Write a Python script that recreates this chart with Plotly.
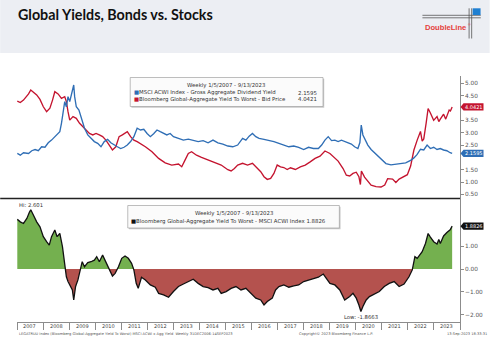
import pandas as pd
import plotly.graph_objects as go

# ---------------- data ----------------
ACWI_DATES = [
    "2007-01-05", "2007-02-16", "2007-04-02", "2007-06-12", "2007-07-27", "2007-09-11", "2007-10-27",
    "2007-12-12", "2008-01-28", "2008-03-14", "2008-04-29", "2008-06-14", "2008-07-30", "2008-08-23",
    "2008-09-15", "2008-10-08", "2008-10-31", "2008-11-23", "2008-12-16", "2009-01-09", "2009-02-01",
    "2009-03-06", "2009-03-19", "2009-04-11", "2009-05-18", "2009-06-19", "2009-08-04", "2009-09-19",
    "2009-11-04", "2009-12-20", "2010-02-05", "2010-03-23", "2010-05-08", "2010-06-24", "2010-08-08",
    "2010-09-23", "2010-11-08", "2010-12-24", "2011-02-09", "2011-03-27", "2011-05-12", "2011-06-27",
    "2011-08-12", "2011-09-28", "2011-11-13", "2011-12-29", "2012-02-13", "2012-03-30", "2012-05-16",
    "2012-07-01", "2012-08-16", "2012-10-01", "2012-11-17", "2013-01-02", "2013-03-13", "2013-05-21",
    "2013-07-29", "2013-10-06", "2013-12-14", "2014-02-22", "2014-05-02", "2014-07-10", "2014-09-17",
    "2014-11-25", "2015-02-03", "2015-04-13", "2015-06-21", "2015-08-29", "2015-10-14", "2015-11-29",
    "2016-01-14", "2016-03-01", "2016-04-16", "2016-06-24", "2016-09-02", "2016-11-10", "2017-01-19",
    "2017-03-29", "2017-06-07", "2017-08-15", "2017-10-23", "2018-01-01", "2018-03-10", "2018-05-18",
    "2018-07-26", "2018-09-10", "2018-10-26", "2018-12-11", "2019-01-27", "2019-03-14", "2019-04-29",
    "2019-06-14", "2019-07-30", "2019-09-15", "2019-10-31", "2019-12-16", "2020-01-31", "2020-02-28",
    "2020-03-18", "2020-04-10", "2020-05-17", "2020-06-18", "2020-08-03", "2020-09-18", "2020-11-03",
    "2020-12-19", "2021-02-27", "2021-05-08", "2021-07-16", "2021-09-23", "2021-12-01", "2022-02-08",
    "2022-03-26", "2022-05-11", "2022-06-26", "2022-08-11", "2022-09-27", "2022-11-12", "2022-12-28",
    "2023-02-13", "2023-03-31", "2023-05-16", "2023-07-01", "2023-08-16", "2023-09-13",
]
ACWI_YIELD = [
    2.16, 2.09, 2.19, 2.16, 2.27, 2.32, 2.27,
    2.43, 2.41, 2.59, 2.70, 2.84, 2.97, 3.04,
    3.38, 3.92, 4.26, 4.05, 4.46, 4.26, 4.53,
    4.93, 4.46, 4.05, 3.92, 3.58, 3.18, 2.91,
    2.77, 2.64, 2.57, 2.43, 2.64, 2.73, 2.59,
    2.50, 2.43, 2.36, 2.41, 2.50, 2.64, 2.84,
    3.18, 3.11, 3.14, 2.97, 2.84, 2.96, 3.11,
    3.04, 2.96, 2.91, 2.97, 2.84, 2.77, 2.70,
    2.74, 2.68, 2.64, 2.68, 2.59, 2.70, 2.59,
    2.54, 2.46, 2.43, 2.50, 2.77, 2.70, 2.86,
    2.97, 2.84, 2.77, 2.73, 2.70, 2.64, 2.57,
    2.50, 2.43, 2.46, 2.41, 2.32, 2.41, 2.36,
    2.36, 2.50, 2.70, 2.84, 2.68, 2.70, 2.64,
    2.70, 2.64, 2.59, 2.54, 2.43, 2.36, 2.60,
    3.31, 2.91, 2.70, 2.50, 2.32, 2.19, 2.05,
    1.96, 1.75, 1.70, 1.72, 1.76, 1.78, 1.88,
    1.98, 2.12, 2.33, 2.30, 2.50, 2.36, 2.41,
    2.32, 2.36, 2.30, 2.27, 2.19, 2.1595,
]

AGG_DATES = [
    "2007-01-05", "2007-02-16", "2007-04-02", "2007-06-12", "2007-07-13", "2007-08-20", "2007-10-04",
    "2007-11-19", "2008-01-05", "2008-02-20", "2008-04-06", "2008-05-13", "2008-06-14", "2008-07-30",
    "2008-09-15", "2008-10-31", "2008-11-23", "2008-12-16", "2009-01-09", "2009-02-24", "2009-04-11",
    "2009-05-27", "2009-07-12", "2009-08-27", "2009-10-12", "2009-11-28", "2010-01-13", "2010-02-28",
    "2010-04-15", "2010-05-31", "2010-07-16", "2010-08-31", "2010-10-17", "2010-12-02", "2011-01-17",
    "2011-03-27", "2011-05-12", "2011-06-27", "2011-08-12", "2011-09-04", "2011-12-05", "2012-03-07",
    "2012-06-08", "2012-09-08", "2012-12-09", "2013-03-13", "2013-04-28", "2013-06-13", "2013-07-29",
    "2013-09-13", "2013-11-21", "2014-01-30", "2014-05-02", "2014-08-02", "2014-11-02", "2015-02-03",
    "2015-03-21", "2015-05-06", "2015-06-21", "2015-08-29", "2015-11-06", "2016-01-14", "2016-03-24",
    "2016-05-09", "2016-06-24", "2016-08-09", "2016-09-25", "2016-11-10", "2016-12-26", "2017-02-11",
    "2017-03-29", "2017-05-15", "2017-06-30", "2017-09-07", "2017-11-15", "2018-01-23", "2018-04-02",
    "2018-06-10", "2018-08-18", "2018-10-26", "2019-01-04", "2019-02-19", "2019-04-29", "2019-07-07",
    "2019-08-22", "2019-10-08", "2019-11-23", "2020-01-08", "2020-02-14", "2020-03-06", "2020-03-20",
    "2020-05-03", "2020-06-18", "2020-08-03", "2020-10-11", "2020-12-20", "2021-02-10", "2021-03-23",
    "2021-05-31", "2021-07-16", "2021-08-31", "2021-11-08", "2021-12-24", "2022-02-08", "2022-03-26",
    "2022-05-11", "2022-06-26", "2022-07-20", "2022-08-11", "2022-09-13", "2022-10-11", "2022-11-12",
    "2022-12-28", "2023-02-13", "2023-03-10", "2023-03-31", "2023-05-16", "2023-06-15", "2023-07-01",
    "2023-08-02", "2023-08-20", "2023-09-13",
]
AGG_YTW = [
    4.28, 4.22, 4.32, 4.57, 4.73, 4.62, 4.53,
    4.35, 4.05, 3.85, 3.99, 4.32, 4.66, 4.57,
    4.39, 4.46, 4.26, 3.85, 3.51, 3.65, 3.58,
    3.38, 3.24, 3.11, 2.97, 2.91, 2.97, 2.91,
    2.84, 2.70, 2.50, 2.30, 2.43, 2.84, 2.91,
    3.04, 2.84, 2.70, 2.64, 2.60, 2.43, 2.23,
    1.96, 1.78, 1.69, 1.73, 1.62, 1.89, 2.16,
    2.23, 2.09, 2.00, 1.89, 1.78, 1.69, 1.50,
    1.45, 1.55, 1.69, 1.76, 1.69, 1.76, 1.55,
    1.42, 1.22, 1.11, 1.15, 1.35, 1.69, 1.62,
    1.59, 1.51, 1.58, 1.51, 1.62, 1.69, 1.82,
    1.96, 2.05, 2.26, 2.16, 2.05, 1.85, 1.55,
    1.28, 1.25, 1.35, 1.40, 1.22, 0.90, 1.45,
    1.20, 1.05, 0.88, 0.82, 0.80, 0.88, 1.14,
    1.12, 0.98, 1.12, 1.22, 1.30, 1.65, 2.30,
    2.70, 3.05, 2.66, 2.75, 3.38, 3.98, 3.80,
    3.50, 3.65, 3.45, 3.55, 3.75, 3.55, 3.70,
    3.92, 3.88, 4.0421,
]

SPREAD_DATES = [
    "2007-01-05", "2007-02-16", "2007-04-02", "2007-05-19", "2007-06-25", "2007-07-13", "2007-08-20",
    "2007-10-04", "2007-11-19", "2008-01-05", "2008-02-20", "2008-03-28", "2008-04-29", "2008-06-14",
    "2008-07-16", "2008-08-23", "2008-09-29", "2008-10-18", "2008-11-05", "2008-11-23", "2008-12-16",
    "2009-01-18", "2009-02-15", "2009-03-06", "2009-04-01", "2009-05-04", "2009-06-05", "2009-07-03",
    "2009-08-04", "2009-09-19", "2009-11-04", "2009-12-20", "2010-01-22", "2010-02-28", "2010-04-15",
    "2010-05-31", "2010-07-16", "2010-08-31", "2010-10-07", "2010-11-23", "2011-01-08", "2011-02-23",
    "2011-04-10", "2011-05-26", "2011-06-27", "2011-07-30", "2011-08-27", "2011-10-12", "2011-12-05",
    "2012-02-13", "2012-04-22", "2012-06-08", "2012-08-16", "2012-10-25", "2013-01-02", "2013-03-13",
    "2013-05-21", "2013-07-29", "2013-10-06", "2013-12-14", "2014-02-22", "2014-05-02", "2014-07-10",
    "2014-09-17", "2014-11-02", "2015-01-10", "2015-03-21", "2015-05-28", "2015-08-06", "2015-10-14",
    "2015-12-22", "2016-03-01", "2016-05-09", "2016-06-24", "2016-08-09", "2016-10-18", "2016-12-03",
    "2017-01-19", "2017-03-29", "2017-06-07", "2017-08-15", "2017-10-23", "2018-01-01", "2018-03-10",
    "2018-05-18", "2018-07-26", "2018-10-03", "2018-11-18", "2019-01-04", "2019-03-14", "2019-05-22",
    "2019-07-30", "2019-10-08", "2019-11-23", "2020-01-08", "2020-02-14", "2020-03-13", "2020-04-10",
    "2020-05-26", "2020-07-11", "2020-09-18", "2020-11-26", "2021-02-04", "2021-04-14", "2021-06-22",
    "2021-08-31", "2021-11-08", "2022-01-16", "2022-03-03", "2022-04-09", "2022-05-11", "2022-06-13",
    "2022-07-20", "2022-09-04", "2022-10-11", "2022-11-12", "2022-12-28", "2023-02-13", "2023-03-10",
    "2023-03-31", "2023-05-16", "2023-07-01", "2023-08-16", "2023-09-13",
]
SPREAD = [
    2.18, 2.07, 2.00, 2.22, 2.50, 2.601, 2.36,
    2.07, 1.85, 1.42, 1.20, 1.05, 1.42, 1.71,
    1.42, 1.56, 0.98, 0.54, 0.10, -0.34, -0.55,
    -0.77, -0.92, -1.36, -0.77, -0.48, -0.04, 0.32,
    0.10, 0.28, 0.32, 0.39, 0.54, 0.32, 0.61,
    0.32, -0.04, -0.31, -0.19, 0.10, 0.47, 0.57,
    0.47, 0.25, -0.04, -0.63, -0.85, -0.36, -0.48,
    -0.70, -0.80, -1.07, -1.14, -1.24, -0.99, -0.77,
    -0.66, -0.55, -0.45, -0.63, -0.77, -0.82, -0.92,
    -0.85, -1.07, -0.99, -0.85, -0.77, -0.92, -0.85,
    -1.07, -1.28, -1.36, -1.58, -1.43, -1.28, -0.92,
    -0.77, -0.70, -0.80, -0.74, -0.70, -0.55, -0.48,
    -0.41, -0.36, -0.22, -0.41, -0.63, -0.70, -0.92,
    -1.36, -1.21, -1.07, -1.28, -1.58, -1.8663, -1.65,
    -1.36, -1.21, -1.09, -0.99, -0.77, -0.63, -0.55,
    -0.77, -0.66, -0.34, -0.04, 0.54, 0.47, 0.61,
    0.76, 1.12, 1.56, 1.40, 1.20, 1.10, 1.30,
    1.12, 1.45, 1.60, 1.72, 1.8826,
]

YEARS = list(range(2007, 2024))
# 2.00 / 4.00 (top) and 2.00 (bottom) sit under the last-value tags
TOP_TICKS = [0.5, 1.0, 1.5, 2.5, 3.0, 3.5, 4.5, 5.0]
BOTTOM_TICKS = [-2, -1, 0, 1]

BLUE = "#2F6EB5"
RED = "#C4142F"
GREEN_FILL = "#74B04F"
RED_FILL = "#B4524E"
FONT = "DejaVu Sans"

# ---------------- page geometry (pixels) ----------------
W, H = 495, 349
L, R, T, B = 17, 465, 76, 322
SPLIT = 198.5


def fx(px):
    return (px - L) / (R - L)


def fy(py):
    return (B - py) / (B - T)


split_dom = fy(SPLIT)


def us_date(s):
    d = pd.Timestamp(s)
    return f"{d.month}/{d.day}/{d.year}"


period = f"Weekly {us_date(ACWI_DATES[0])} - {us_date(ACWI_DATES[-1])}"


def split_at_zero(dates, vals):
    ts = pd.to_datetime(dates)
    xs, ys = [ts[0]], [vals[0]]
    for i in range(1, len(vals)):
        v0, v1 = vals[i - 1], vals[i]
        if (v0 > 0 > v1) or (v0 < 0 < v1):
            frac = v0 / (v0 - v1)
            xs.append(ts[i - 1] + (ts[i] - ts[i - 1]) * frac)
            ys.append(0.0)
        xs.append(ts[i])
        ys.append(vals[i])
    return xs, [max(v, 0.0) for v in ys], [min(v, 0.0) for v in ys]


fig = go.Figure()

# top panel: yields
fig.add_trace(go.Scatter(x=AGG_DATES, y=AGG_YTW, mode="lines", line=dict(color=RED, width=1.35),
                         xaxis="x", yaxis="y", hoverinfo="skip"))
fig.add_trace(go.Scatter(x=ACWI_DATES, y=ACWI_YIELD, mode="lines", line=dict(color=BLUE, width=1.35),
                         xaxis="x", yaxis="y", hoverinfo="skip"))

# bottom panel: spread with green/red area
sx, spos, sneg = split_at_zero(SPREAD_DATES, SPREAD)
fig.add_trace(go.Scatter(x=sx, y=spos, mode="lines", line=dict(width=0), fill="tozeroy",
                         fillcolor=GREEN_FILL, xaxis="x2", yaxis="y2", hoverinfo="skip"))
fig.add_trace(go.Scatter(x=sx, y=sneg, mode="lines", line=dict(width=0), fill="tozeroy",
                         fillcolor=RED_FILL, xaxis="x2", yaxis="y2", hoverinfo="skip"))
fig.add_trace(go.Scatter(x=SPREAD_DATES, y=SPREAD, mode="lines", line=dict(color="#111111", width=1.3),
                         xaxis="x2", yaxis="y2", hoverinfo="skip"))

x_range = ["2007-01-01", "2024-01-01"]
axis_grey = "#8c8c8c"
tickfont = dict(family=FONT, size=5.8, color="#555555")

top_lo = 5 - (SPLIT - 83.3) / 24.7
top_hi = 5 + (83.3 - T) / 24.7
bot_hi = (269 - SPLIT) / 22.77
bot_lo = -(B - 269) / 22.77

shapes = []
annotations = []

# header band and title
shapes.append(dict(type="rect", xref="paper", yref="paper", x0=fx(0), x1=fx(W), y0=fy(53), y1=fy(0),
                   fillcolor="#ECEEF3", line=dict(width=0), layer="below"))
annotations.append(dict(text="<b>Global Yields, Bonds vs. Stocks</b>", xref="paper", yref="paper",
                        x=fx(16), y=fy(15), xanchor="left", yanchor="middle", showarrow=False,
                        font=dict(family="Lato", size=14.3, color="#111111")))

# DoubleLine mark
for yy in (15.3, 17.8):
    shapes.append(dict(type="line", xref="paper", yref="paper", x0=fx(427), x1=fx(486), y0=fy(yy), y1=fy(yy),
                       line=dict(color="#555555", width=0.8)))
for xx in (474.2, 476.8):
    shapes.append(dict(type="line", xref="paper", yref="paper", x0=fx(xx), x1=fx(xx), y0=fy(8.3), y1=fy(38.5),
                       line=dict(color="#555555", width=0.8)))
shapes.append(dict(type="rect", xref="paper", yref="paper", x0=fx(477.8), x1=fx(485.8), y0=fy(15), y1=fy(8.3),
                   fillcolor="#1F7FD1", line=dict(width=0)))
annotations.append(dict(text="<b>DoubleLine</b>", xref="paper", yref="paper", x=fx(450), y=fy(27.2),
                        xanchor="center", yanchor="middle", showarrow=False,
                        font=dict(family="Liberation Sans", size=7.6, color="#E5413C")))
annotations.append(dict(text="®", xref="paper", yref="paper", x=fx(471.5), y=fy(24.5),
                        xanchor="left", yanchor="middle", showarrow=False,
                        font=dict(family="Liberation Sans", size=3.5, color="#E5413C")))

# divider between the panels
shapes.append(dict(type="line", xref="paper", yref="paper", x0=fx(0), x1=1, y0=split_dom, y1=split_dom,
                   line=dict(color="#222222", width=1.5)))


# legend boxes
def legend_box(x0, x1, y0, y1):
    shapes.append(dict(type="rect", xref="paper", yref="paper", x0=fx(x0 + 1.2), x1=fx(x1 + 1.2),
                       y0=fy(y1 + 1.2), y1=fy(y0 + 1.2), fillcolor="#C9C9C9", line=dict(width=0)))
    shapes.append(dict(type="rect", xref="paper", yref="paper", x0=fx(x0), x1=fx(x1), y0=fy(y1), y1=fy(y0),
                       fillcolor="#FBFBFB", line=dict(color="#A0A0A0", width=0.7)))


def legend_text(text, px, py, anchor):
    annotations.append(dict(text=text, xref="paper", yref="paper", x=fx(px), y=fy(py), xanchor=anchor,
                            yanchor="middle", showarrow=False,
                            font=dict(family=FONT, size=5.4, color="#333333")))


legend_box(131.5, 326.5, 77.5, 106.5)
legend_text(period, 228.5, 85.3, "center")
legend_text(f'<span style="color:{BLUE}">■</span>MSCI ACWI Index - Gross Aggregate Dividend Yield',
            133, 92.6, "left")
legend_text(f"{ACWI_YIELD[-1]:.4f}", 322.5, 92.6, "right")
legend_text(f'<span style="color:{RED}">■</span>Bloomberg Global-Aggregate Yield To Worst - Bid Price',
            133, 99.4, "left")
legend_text(f"{AGG_YTW[-1]:.4f}", 322.5, 99.4, "right")

legend_box(129, 343, 205.5, 228)
legend_text(period, 236, 213.8, "center")
legend_text(f'<span style="color:#111111">■</span>Bloomberg Global-Aggregate Yield To Worst - MSCI ACWI Index '
            f"{SPREAD[-1]:.4f}", 130.5, 221.2, "left")


# last-value tags on the right axis
def value_tag(value, yref, color):
    shapes.append(dict(type="path", xref="paper", xsizemode="pixel", xanchor=1,
                       yref=yref, ysizemode="pixel", yanchor=value,
                       path="M 0.5,0 L 3.5,3.6 L 23.5,3.6 L 23.5,-3.6 L 3.5,-3.6 Z",
                       fillcolor=color, line=dict(width=0), layer="above"))
    annotations.append(dict(text=f"{value:.4f}", xref="paper", x=1, xshift=13.8, yref=yref, y=value,
                            xanchor="center", yanchor="middle", showarrow=False,
                            font=dict(family=FONT, size=5, color="white")))


value_tag(AGG_YTW[-1], "y", RED)
value_tag(ACWI_YIELD[-1], "y", BLUE)
value_tag(SPREAD[-1], "y2", "#111111")

# high / low of the spread
i_hi = SPREAD.index(max(SPREAD))
i_lo = SPREAD.index(min(SPREAD))
annotations.append(dict(text=f"Hi: {SPREAD[i_hi]}", x=SPREAD_DATES[i_hi], y=SPREAD[i_hi], xref="x2", yref="y2",
                        yshift=5, xanchor="center", yanchor="middle", showarrow=False,
                        font=dict(family=FONT, size=5.3, color="#333333")))
annotations.append(dict(text=f"Low: {SPREAD[i_lo]}", x=SPREAD_DATES[i_lo], y=SPREAD[i_lo], xref="x2", yref="y2",
                        yshift=-5, xanchor="center", yanchor="middle", showarrow=False,
                        font=dict(family=FONT, size=5.3, color="#333333")))

# year labels centred in each year
for yr in YEARS:
    annotations.append(dict(text=str(yr), x=f"{yr}-07-02", xref="x2", y=fy(326), yref="paper",
                            xanchor="center", yanchor="middle", showarrow=False,
                            font=dict(family=FONT, size=5, color="#444444")))

# footer
foot = dict(family=FONT, size=3.6, color="#555555")
annotations.append(dict(text="LEGATRUU Index (Bloomberg Global-Aggregate Yield To Worst) MSCI ACWI x Agg Yield  "
                             "Weekly 31DEC2006-14SEP2023", xref="paper", yref="paper", x=fx(17), y=fy(333.5),
                        xanchor="left", yanchor="middle", showarrow=False, font=foot))
annotations.append(dict(text="Copyright© 2023 Bloomberg Finance L.P.", xref="paper", yref="paper", x=fx(300),
                        y=fy(333.5), xanchor="left", yanchor="middle", showarrow=False, font=foot))
annotations.append(dict(text="13-Sep-2023 18:33:31", xref="paper", yref="paper", x=fx(494), y=fy(333.5),
                        xanchor="right", yanchor="middle", showarrow=False, font=foot))

fig.update_layout(
    width=W, height=H,
    margin=dict(l=L, r=W - R, t=T, b=H - B, pad=0),
    paper_bgcolor="white", plot_bgcolor="white",
    showlegend=False, hovermode=False,
    xaxis=dict(domain=[0, 1], range=x_range, anchor="y", visible=False, showgrid=False),
    xaxis2=dict(domain=[0, 1], range=x_range, anchor="y2", showgrid=False, zeroline=False,
                showline=True, linecolor=axis_grey, linewidth=0.8,
                ticks="outside", ticklen=7, tickwidth=0.8, tickcolor=axis_grey,
                tickvals=[f"{y}-01-01" for y in YEARS + [YEARS[-1] + 1]], showticklabels=False),
    yaxis=dict(domain=[split_dom, 1], range=[top_lo, top_hi], anchor="x", side="right",
               showgrid=False, zeroline=False, showline=True, linecolor=axis_grey, linewidth=0.8,
               ticks="outside", ticklen=3, tickwidth=0.8, tickcolor=axis_grey,
               tickvals=TOP_TICKS, tickformat=".2f", tickfont=tickfont),
    yaxis2=dict(domain=[0, split_dom], range=[bot_lo, bot_hi], anchor="x2", side="right",
                showgrid=False, zeroline=False, showline=True, linecolor=axis_grey, linewidth=0.8,
                ticks="outside", ticklen=3, tickwidth=0.8, tickcolor=axis_grey,
                tickvals=BOTTOM_TICKS, tickformat=".2f", tickfont=tickfont),
    shapes=shapes,
    annotations=annotations,
)

fig.write_html("out.html", config={"displayModeBar": False})
